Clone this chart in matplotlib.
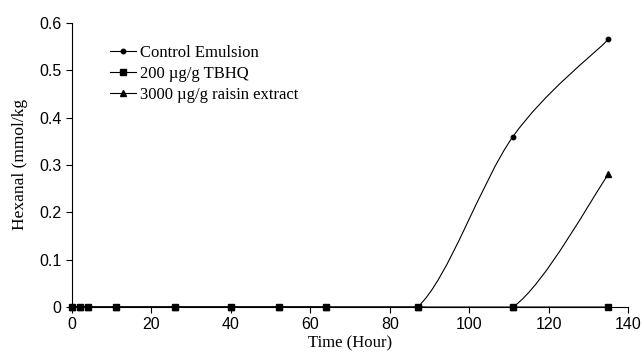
import matplotlib
matplotlib.use("Agg")
import matplotlib.pyplot as plt
from matplotlib.path import Path
from matplotlib.patches import PathPatch
from matplotlib.lines import Line2D

# Data
time_h = [0, 2, 4, 11, 26, 40, 52, 64, 87, 111, 135]
control = [0, 0, 0, 0, 0, 0, 0, 0, 0, 0.36, 0.565]
tbhq = [0, 0, 0, 0, 0, 0, 0, 0, 0, 0, 0]
raisin = [0, 0, 0, 0, 0, 0, 0, 0, 0, 0, 0.28]

labels = ["Control Emulsion", "200 \u00b5g/g TBHQ", "3000 \u00b5g/g raisin extract"]
markers = ["o", "s", "^"]
msizes = [3.2, 4.2, 4.2]


def smooth_path(xs, ys):
    # Excel-style smoothed line: cubic Bezier through every point
    n = len(xs)
    verts = [(xs[0], ys[0])]
    codes = [Path.MOVETO]
    for i in range(n - 1):
        x0, y0 = (xs[i - 1], ys[i - 1]) if i > 0 else (xs[i], ys[i])
        x1, y1 = xs[i], ys[i]
        x2, y2 = xs[i + 1], ys[i + 1]
        x3, y3 = (xs[i + 2], ys[i + 2]) if i + 2 < n else (x2, y2)
        c1 = (x1 + (x2 - x0) / 6, y1 + (y2 - y0) / 6)
        c2 = (x2 - (x3 - x1) / 6, y2 - (y3 - y1) / 6)
        verts += [c1, c2, (x2, y2)]
        codes += [Path.CURVE4] * 3
    return Path(verts, codes)


fig = plt.figure(figsize=(6.43, 3.57), dpi=100)
ax = fig.add_axes([0.112, 0.140, 0.865, 0.796])

for ys, m, ms in zip([control, tbhq, raisin], markers, msizes):
    ax.add_patch(PathPatch(smooth_path(time_h, ys), facecolor="none",
                           edgecolor="black", lw=0.8, zorder=2))
    ax.plot(time_h, ys, linestyle="none", marker=m, ms=ms, color="black",
            clip_on=False, zorder=3)

ax.set_xlim(0, 140)
ax.set_ylim(0, 0.6)
ax.set_xticks(range(0, 141, 20))
ax.set_yticks([0, 0.1, 0.2, 0.3, 0.4, 0.5, 0.6])
ax.set_yticklabels(["0", "0.1", "0.2", "0.3", "0.4", "0.5", "0.6"])

for s in ["top", "right"]:
    ax.spines[s].set_visible(False)
for s in ["left", "bottom"]:
    ax.spines[s].set_linewidth(0.8)
ax.tick_params(direction="out", length=4, width=0.8, labelsize=11.5)
for t in ax.get_xticklabels() + ax.get_yticklabels():
    t.set_family("Liberation Sans")

ax.set_xlabel("Time (Hour)", family="Liberation Serif", fontsize=12, labelpad=2)
ax.set_ylabel("Hexanal (mmol/kg", family="Liberation Serif", fontsize=12.5, labelpad=8)

handles = [Line2D([], [], color="black", lw=0.8, marker=m, ms=ms)
           for m, ms in zip(markers, msizes)]
ax.legend(handles, labels, loc="upper left", bbox_to_anchor=(0.147, 0.916),
          bbox_transform=fig.transFigure, frameon=False,
          prop={"family": "Liberation Serif", "size": 12},
          handlelength=1.6, handletextpad=0.25, labelspacing=0.3)

fig.savefig("out.png", dpi=100)
